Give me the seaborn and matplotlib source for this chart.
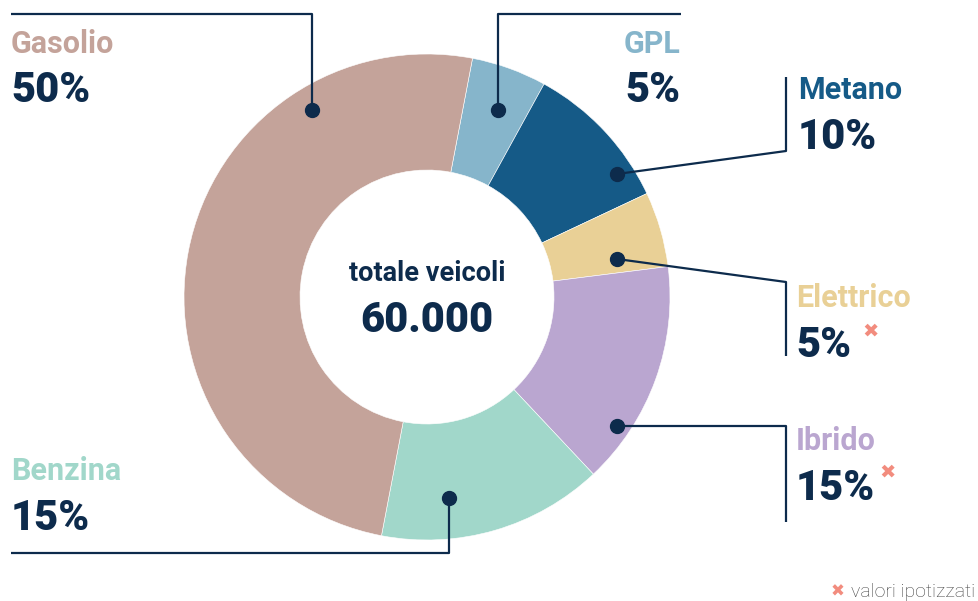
import matplotlib.pyplot as plt
import seaborn as sns

# data
categories = ["GPL", "Metano", "Elettrico", "Ibrido", "Benzina", "Gasolio"]
shares = [5, 10, 5, 15, 15, 50]
estimated = [False, False, True, True, False, False]
total_label = "60.000"

colors = ["#86B5CB", "#155A87", "#E9D096", "#BAA6D0", "#A1D7CA", "#C4A39A"]
NAVY = "#0D2B4C"
SALMON = "#F28C7E"

W, H = 979, 601


def py(y):
    # pixel row -> data y
    return H - y


# leader line path, label anchor (x, ha, name baseline, pct baseline), asterisk pos
layout = {
    "Gasolio": ([(312, 110), (312, 14), (11, 14)], (11, "left", 53, 102), None),
    "GPL": ([(498, 110), (498, 14), (681, 14)], (681, "right", 53, 102), None),
    "Metano": ([(617, 174), (786, 151), (786, 77)], (798, "left", 99, 149), None),
    "Elettrico": ([(617, 259), (786, 282), (786, 356)], (796, "left", 307, 357), (871, 331)),
    "Ibrido": ([(617, 426), (786, 426), (786, 522)], (796, "left", 450, 500), (888, 472)),
    "Benzina": ([(449, 498), (449, 553), (11, 553)], (11, "left", 480, 530), None),
}

sns.set_theme(style="white")
plt.rcParams["font.family"] = ["Roboto", "DejaVu Sans"]

palette = sns.color_palette(colors)

fig = plt.figure(figsize=(W / 100, H / 100), dpi=100)
ax = fig.add_axes([0, 0, 1, 1])

ax.pie(
    shares,
    colors=palette,
    startangle=79.2,
    counterclock=False,
    radius=243,
    center=(427, py(297)),
    wedgeprops=dict(width=116, edgecolor="white", linewidth=0.4),
)
ax.set_xlim(0, W)
ax.set_ylim(0, H)
ax.set_aspect("equal")
ax.axis("off")

# centre text
ax.text(427, py(281), "totale veicoli", ha="center", va="baseline",
        fontsize=19.5, fontweight="bold", color=NAVY)
ax.text(427, py(332), total_label, ha="center", va="baseline",
        fontsize=30, fontweight="black", color=NAVY)

# leader lines and labels
for name, share, col, est in zip(categories, shares, colors, estimated):
    path, (tx, ha, yn, yp), star = layout[name]
    xs = [p[0] for p in path]
    ys = [py(p[1]) for p in path]
    ax.plot(xs, ys, color=NAVY, lw=1.6, solid_capstyle="butt", zorder=3)
    ax.plot(xs[0], ys[0], "o", color=NAVY, markersize=10, zorder=4)
    ax.text(tx, py(yn), name, ha=ha, va="baseline", fontsize=22,
            fontweight="semibold", color=col)
    ax.text(tx, py(yp), f"{share}%", ha=ha, va="baseline", fontsize=30,
            fontweight="black", color=NAVY)
    if est and star:
        ax.text(star[0], py(star[1]), "\u2716", ha="center", va="center",
                fontsize=14, color=SALMON, family="DejaVu Sans")

# footnote
ax.text(975, py(597), "valori ipotizzati", ha="right", va="baseline",
        fontsize=14, fontweight="light", color="#444444")
ax.text(838, py(592), "\u2716", ha="center", va="center",
        fontsize=12, color=SALMON, family="DejaVu Sans")

fig.savefig("out.png", dpi=100)
